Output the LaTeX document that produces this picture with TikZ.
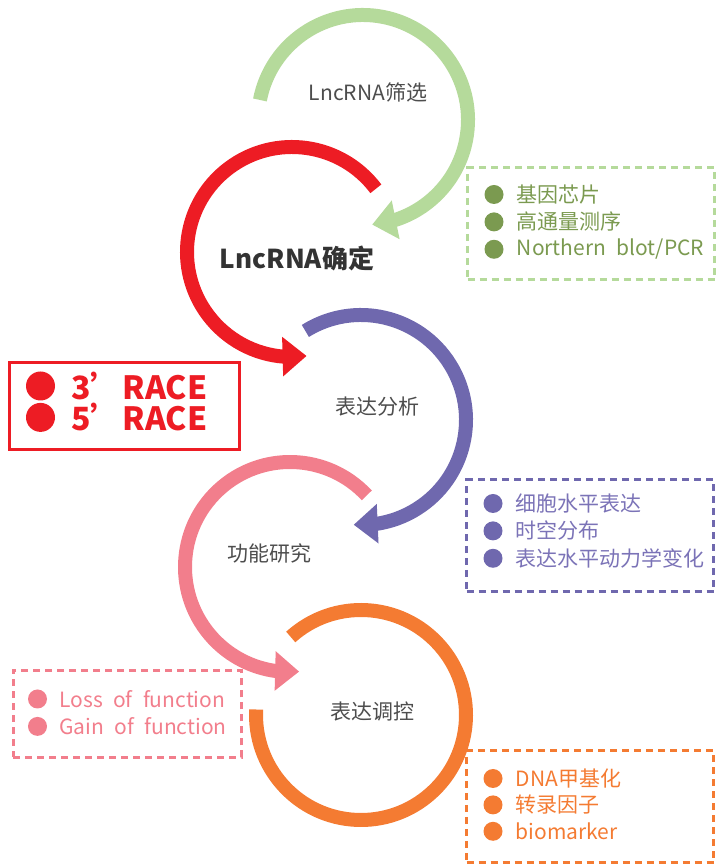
\documentclass[tikz,border=0pt]{standalone}
\usepackage{fontspec}
\setmainfont{Noto Sans CJK SC}[WordSpace=2.2]
\usepackage{tikz}
\usetikzlibrary{arrows.meta, bending, positioning, calc}

\definecolor{greenArc}{HTML}{B5DA9B}
\definecolor{greenTxt}{HTML}{7B9A50}
\definecolor{redArc}{HTML}{ED1C24}
\definecolor{purpleArc}{HTML}{6F68AE}
\definecolor{purpleTxt}{HTML}{7B73B7}
\definecolor{pinkArc}{HTML}{F27E8C}
\definecolor{orangeArc}{HTML}{F47B32}
\definecolor{labelTxt}{HTML}{4D4D4D}
\definecolor{keyTxt}{HTML}{333333}

\begin{document}
\begin{tikzpicture}[
		x=1pt, y=1pt,
		%--- Node Styles ---------------------------------------------------
		stage/.style={
			inner sep=0pt,
			text=labelTxt,
			font=\fontsize{21}{25}\selectfont
		},
		keystage/.style={
			text=keyTxt,
			font=\fontsize{26}{30}\selectfont\bfseries
		},
		infobox/.style={
			rectangle,
			line width=3pt,
			dash pattern=on 7pt off 5pt,
			minimum width=247pt,
			minimum height=112pt,
			inner sep=0pt
		},
		dot/.style={circle, inner sep=0pt, minimum size=19pt},
		item/.style={inner sep=0pt, anchor=west,
			font=\fontsize{21}{25}\selectfont},
		%--- Arc Styles ----------------------------------------------------
		cyclearc/.style={line width=14pt},
		tip/.style={-{Triangle[length=24pt,width=38pt]}}
		]
		
		\useasboundingbox (0,0) rectangle (724,867);
		
		%--- Circle Centres ----------------------------------------------------
		
		\coordinate (c1) at (363,747);
		\coordinate (c2) at (292,615);
		\coordinate (c3) at (361,447);
		\coordinate (c4) at (290,300);
		\coordinate (c5) at (361,152);
		
		%--- Cycle Arcs --------------------------------------------------------
		
		\draw[cyclearc, tip, draw=greenArc]
		($(c1)+(169:105)$) arc[start angle=169, end angle=-85, radius=105];
		\draw[cyclearc, tip, draw=redArc]
		($(c2)+(37:105)$) arc[start angle=37, end angle=278, radius=105];
		\draw[cyclearc, tip, draw=purpleArc]
		($(c3)+(122:105)$) arc[start angle=122, end angle=-94, radius=105];
		\draw[cyclearc, tip, draw=pinkArc]
		($(c4)+(43:105)$) arc[start angle=43, end angle=275, radius=105];
		\draw[cyclearc, draw=orangeArc]
		($(c5)+(132:105)$) arc[start angle=132, end angle=-183, radius=105];
		
		%--- Stage Labels ------------------------------------------------------
		
		\node[stage] (screen) at ($(c1)+(5,28)$) {LncRNA筛选};
		\node[stage, keystage] (confirm) at ($(c2)+(5,-6)$) {LncRNA确定};
		\node[stage] (analysis) at ($(c3)+(16,13)$) {表达分析};
		\node[stage] (study) at ($(c4)+(-21,14)$) {功能研究};
		\node[stage] (control) at ($(c5)+(11,3)$) {表达调控};
		
		%--- Screening Box -----------------------------------------------------
		
		\node[infobox, draw=greenArc] (gbox) at (591,643) {};
		\node[dot, fill=greenTxt] (g1) at ($(gbox.north west)+(28,-28)$) {};
		\node[dot, fill=greenTxt, below=8pt of g1] (g2) {};
		\node[dot, fill=greenTxt, below=8pt of g2] (g3) {};
		\node[item, text=greenTxt, right=13pt of g1] (g1t) {基因芯片};
		\node[item, text=greenTxt, right=13pt of g2] (g2t) {高通量测序};
		\node[item, text=greenTxt, right=13pt of g3] (g3t) {Northern blot/PCR};
		
		%--- RACE Box ----------------------------------------------------------
		
		\node[rectangle, draw=redArc, line width=3pt, minimum width=230pt,
		minimum height=87pt] (rbox) at (124,461) {};
		\node[dot, fill=redArc, minimum size=29pt] (r1)
		at ($(rbox.north west)+(33,-25)$) {};
		\node[dot, fill=redArc, minimum size=29pt, below=2pt of r1] (r2) {};
		\node[item, text=redArc, font=\fontsize{32}{36}\selectfont\bfseries,
		right=16pt of r1] (r1t) {3’RACE};
		\node[item, text=redArc, font=\fontsize{32}{36}\selectfont\bfseries,
		right=16pt of r2] (r2t) {5’RACE};
		
		%--- Expression Box ----------------------------------------------------
		
		\node[infobox, draw=purpleArc] (pbox) at (590,331) {};
		\node[dot, fill=purpleArc] (p1) at ($(pbox.north west)+(28,-25)$) {};
		\node[dot, fill=purpleArc, below=8pt of p1] (p2) {};
		\node[dot, fill=purpleArc, below=8pt of p2] (p3) {};
		\node[item, text=purpleTxt, right=13pt of p1] (p1t) {细胞水平表达};
		\node[item, text=purpleTxt, right=13pt of p2] (p2t) {时空分布};
		\node[item, text=purpleTxt, right=13pt of p3] (p3t) {表达水平动力学变化};
		
		%--- Function Box ------------------------------------------------------
		
		\node[infobox, draw=pinkArc, minimum width=228pt,
		minimum height=87pt] (fbox) at (127,153) {};
		\node[dot, fill=pinkArc] (f1) at ($(fbox.north west)+(26,-30)$) {};
		\node[dot, fill=pinkArc, below=8pt of f1] (f2) {};
		\node[item, text=pinkArc, right=12pt of f1] (f1t) {Loss of function};
		\node[item, text=pinkArc, right=12pt of f2] (f2t) {Gain of function};
		
		%--- Regulation Box ----------------------------------------------------
		
		\node[infobox, draw=orangeArc] (obox) at (590,60) {};
		\node[dot, fill=orangeArc] (o1) at ($(obox.north west)+(28,-29)$) {};
		\node[dot, fill=orangeArc, below=7pt of o1] (o2) {};
		\node[dot, fill=orangeArc, below=7pt of o2] (o3) {};
		\node[item, text=orangeArc, right=13pt of o1] (o1t) {DNA甲基化};
		\node[item, text=orangeArc, right=13pt of o2] (o2t) {转录因子};
		\node[item, text=orangeArc, right=13pt of o3] (o3t) {biomarker};
		
	\end{tikzpicture}
\end{document}
